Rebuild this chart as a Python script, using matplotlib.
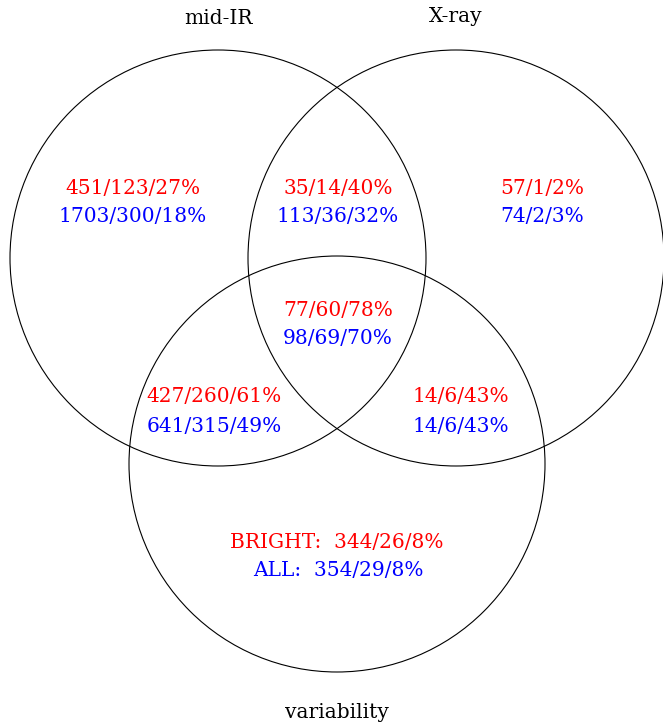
import numpy as np
import matplotlib
matplotlib.use('Agg')
import matplotlib.pyplot as plt
from matplotlib.patches import Circle

# circle sets: name, centre (px), label position
set_names = ['mid-IR', 'X-ray', 'variability']
set_cx = [218, 456, 337]
set_cy = [258, 258, 464]
set_r = 208
label_x = [218, 456, 337]
label_y = [18, 16, 712]

# region counts: bright sample (red) and all sources (blue)
region_x = [133, 338, 542, 338, 214, 461]
region_y = [188, 188, 188, 310, 397, 397]
bright = ['451/123/27%', '35/14/40%', '57/1/2%', '77/60/78%', '427/260/61%', '14/6/43%']
allsrc = ['1703/300/18%', '113/36/32%', '74/2/3%', '98/69/70%', '641/315/49%', '14/6/43%']

# variability-only region
var_bright = 'BRIGHT:  344/26/8%'
var_all = 'ALL:  354/29/8%'

plt.rcParams['font.family'] = ['DejaVu Serif']

fig = plt.figure(figsize=(6.63, 7.24), dpi=100)
ax = fig.add_axes([0, 0, 1, 1])
ax.set_xlim(0, 663)
ax.set_ylim(724, 0)
ax.axis('off')

for cx, cy in zip(set_cx, set_cy):
    ax.add_patch(Circle((cx, cy), set_r, fill=False, ec='black', lw=0.8))

fs = 14.5
for name, x, y in zip(set_names, label_x, label_y):
    ax.text(x, y, name, ha='center', va='center', fontsize=fs, color='black')

for x, y, b, a in zip(region_x, region_y, bright, allsrc):
    ax.text(x, y, b, ha='center', va='center', fontsize=fs, color='red')
    ax.text(x, y + 29, a, ha='center', va='center', fontsize=fs, color='blue')

ax.text(337, 542, var_bright, ha='center', va='center', fontsize=fs, color='red')
ax.text(338, 571, var_all, ha='center', va='center', fontsize=fs, color='blue')

fig.savefig('out.png', dpi=100)
